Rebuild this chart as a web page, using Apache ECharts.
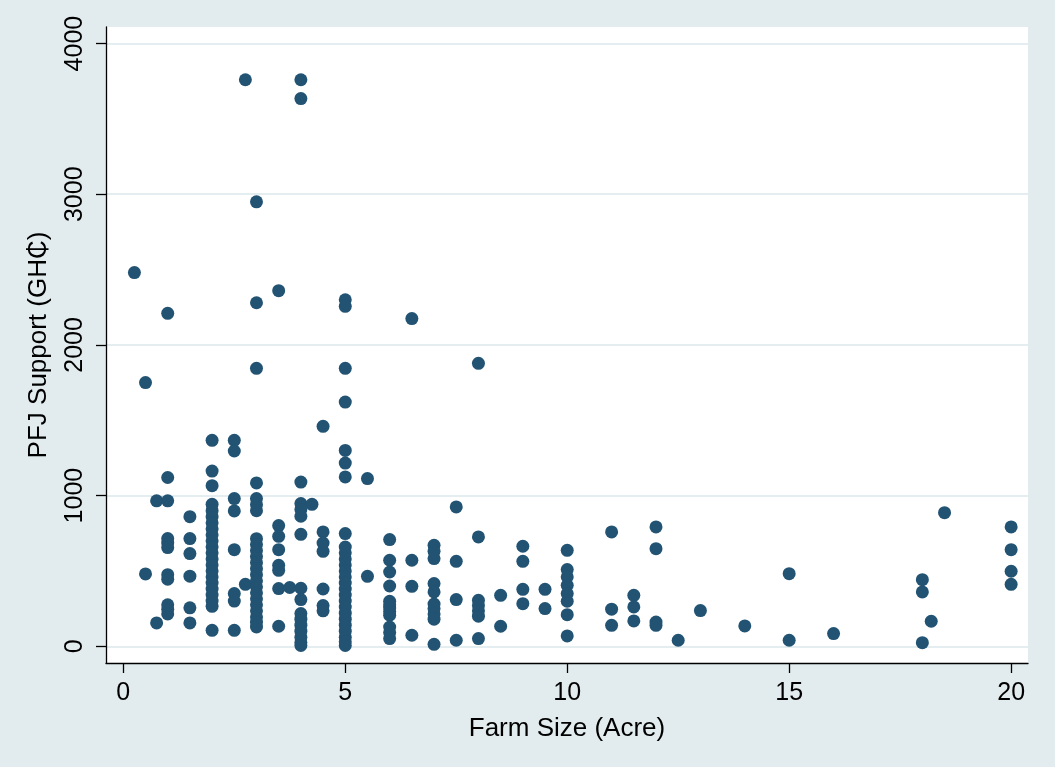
<!DOCTYPE html>
<html lang="en">
<head>
    <meta charset="UTF-8">
    <title>PFJ Support vs Farm Size</title>
    <script src="https://cdn.jsdelivr.net/npm/echarts@6.0.0/dist/echarts.min.js"></script>
    <style>
        html, body { margin: 0; padding: 0; background: #e2ecee; }
    </style>
</head>
<body>
    <div id="ec" style="width:1055px;height:767px"></div>
</body>
<script>
    // farm sizes (acre) that appear in the picture
    var acreLevels = [0.25, 0.5, 0.75, 1, 1.5, 2, 2.5, 2.75, 3, 3.5, 3.75, 4, 4.25, 4.5, 5, 5.5,
        6, 6.5, 7, 7.5, 8, 8.5, 9, 9.5, 10, 11, 11.5, 12, 12.5, 13, 14, 15, 16, 18, 18.2, 18.5, 20]

    // PFJ support values (GH₵), same order as acreLevels
    var supportByAcre = [
        [2480],
        [1750, 480],
        [965, 155],
        [2210, 1120, 965, 715, 685, 655, 475, 445, 275, 245, 215],
        [860, 715, 615, 465, 255, 155],
        [1367, 1163, 1066, 942, 900, 860, 820, 780, 740, 700, 660, 620, 580, 540, 500, 460, 420, 380, 340, 300, 265, 106],
        [1367, 1296, 980, 898, 641, 350, 300, 106],
        [3760, 411],
        [2950, 2280, 1845, 1084, 980, 940, 900, 714, 675, 635, 595, 555, 515, 475, 435, 395, 355, 315, 275, 235, 195, 160, 128],
        [2360, 801, 730, 641, 537, 504, 383, 133],
        [390],
        [3760, 3635, 1090, 947, 907, 863, 743, 385, 310, 217, 180, 140, 100, 60, 25, 5],
        [942],
        [1460, 759, 685, 630, 380, 270, 235],
        [2300, 2256, 1845, 1621, 1300, 1216, 1124, 748, 659, 620, 580, 540, 500, 460, 420, 380, 340, 300, 260, 220, 180, 140, 100, 60, 30, 5],
        [1113, 464],
        [708, 571, 493, 400, 299, 275, 254, 230, 206, 128, 91, 51],
        [2175, 571, 398, 73],
        [670, 630, 582, 416, 361, 280, 250, 215, 180, 13],
        [925, 564, 310, 40],
        [1878, 726, 305, 270, 235, 200, 51],
        [338, 133],
        [664, 564, 378, 283],
        [378, 250],
        [637, 509, 460, 405, 350, 299, 210, 69],
        [759, 246, 139],
        [338, 261, 168],
        [792, 648, 161, 139],
        [40],
        [237],
        [135],
        [482, 40],
        [84],
        [442, 361, 24],
        [166],
        [887],
        [792, 641, 498, 411]
    ]

    var xTicks = [0, 5, 10, 15, 20]
    var yTicks = [0, 1000, 2000, 3000, 4000]

    var points = []
    acreLevels.forEach(function(a, i) {
        supportByAcre[i].forEach(function(v) {
            points.push([a, v])
        })
    })

    var fontFam = 'Liberation Sans, Arial, sans-serif'
    var mychart = echarts.init(document.getElementById('ec'))

    var options = {
        animation: false,
        backgroundColor: '#e2ecee',
        grid: {
            left: 106,
            top: 27,
            right: 27,
            bottom: 104,
            show: true,
            backgroundColor: '#ffffff',
            borderWidth: 0
        },
        xAxis: {
            type: 'value',
            min: -0.39,
            max: 20.38,
            name: 'Farm Size (Acre)',
            nameLocation: 'middle',
            nameGap: 53,
            nameTextStyle: { color: '#000', fontSize: 26, fontFamily: fontFam },
            axisLine: { show: true, onZero: false, lineStyle: { color: '#000', width: 1.3 } },
            axisTick: { show: true, length: 10, customValues: xTicks, lineStyle: { color: '#000', width: 1.3 } },
            axisLabel: { customValues: xTicks, margin: 18, color: '#000', fontSize: 25, fontFamily: fontFam },
            splitLine: { show: false }
        },
        yAxis: {
            type: 'value',
            min: -111,
            max: 4110,
            name: 'PFJ Support (GH₵)',
            nameLocation: 'middle',
            nameGap: 54,
            nameRotate: 90,
            nameTextStyle: { color: '#000', fontSize: 26, fontFamily: fontFam },
            axisLine: { show: true, onZero: false, lineStyle: { color: '#000', width: 1.3 } },
            axisTick: { show: true, length: 10, customValues: yTicks, lineStyle: { color: '#000', width: 1.3 } },
            axisLabel: {
                customValues: yTicks, rotate: 90, margin: 18, color: '#000', fontSize: 25, fontFamily: fontFam,
                formatter: function(v) { return String(v) }
            },
            splitLine: { show: false }
        },
        series: [{
            type: 'scatter',
            data: points,
            symbol: 'circle',
            symbolSize: 13,
            clip: false,
            itemStyle: { color: '#225373', opacity: 1 },
            markLine: {
                silent: true,
                symbol: 'none',
                label: { show: false },
                lineStyle: { color: '#e4eef0', width: 2, type: 'solid' },
                z: 0,
                data: yTicks.map(function(t) { return { yAxis: t } })
            }
        }]
    }
    mychart.setOption(options)
</script>
</html>
